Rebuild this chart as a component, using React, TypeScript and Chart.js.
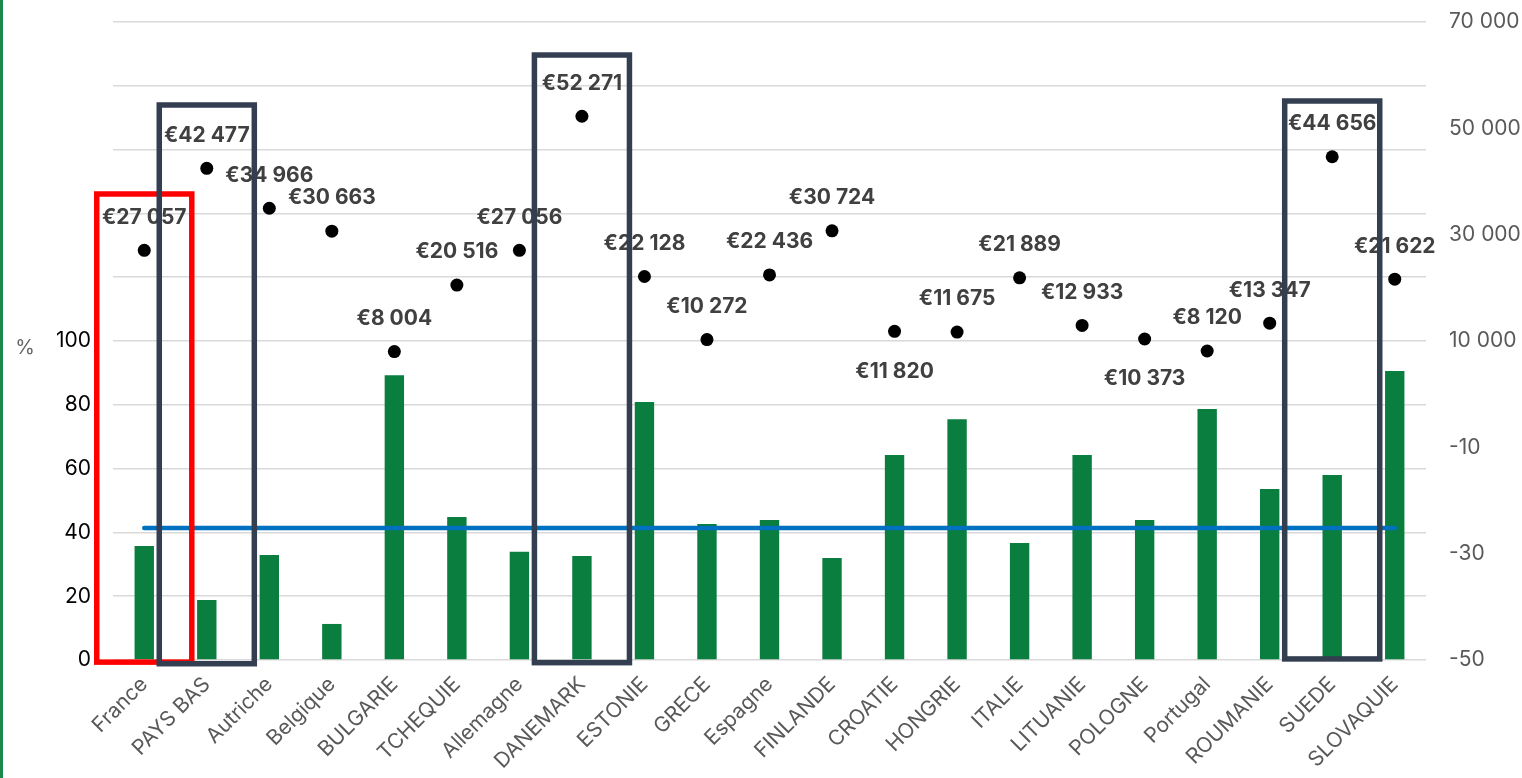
import React, { useEffect, useRef } from "react";
import { Chart, registerables } from "chart.js";

Chart.register(...registerables);

const categories = [
  "France", "PAYS BAS", "Autriche", "Belgique", "BULGARIE", "TCHEQUIE", "Allemagne",
  "DANEMARK", "ESTONIE", "GRECE", "Espagne", "FINLANDE", "CROATIE", "HONGRIE",
  "ITALIE", "LITUANIE", "POLOGNE", "Portugal", "ROUMANIE", "SUEDE", "SLOVAQUIE",
];

const percentValues = [
  35.7, 18.8, 32.9, 11.3, 89.3, 44.8, 33.9, 32.6, 80.9, 42.6, 43.9,
  32.0, 64.3, 75.5, 36.7, 64.3, 43.9, 78.7, 53.6, 58.0, 90.6,
];

const averagePercent = 41.4;

const euroValues = [
  27057, 42477, 34966, 30663, 8004, 20516, 27056, 52271, 22128, 10272, 22436,
  30724, 11820, 11675, 21889, 12933, 10373, 8120, 13347, 44656, 21622,
];

const labelsBelow = ["CROATIE", "POLOGNE"];

const highlightBoxes = [
  { category: "France", top: 37650, bottom: -50400, color: "#ff0000" },
  { category: "PAYS BAS", top: 54390, bottom: -50700, color: "#333f50" },
  { category: "DANEMARK", top: 63790, bottom: -50500, color: "#333f50" },
  { category: "SUEDE", top: 55140, bottom: -49800, color: "#333f50" },
];

const FONT = "Inter, 'Noto Sans', sans-serif";

function formatThousands(v: number): string {
  const s = Math.round(Math.abs(v)).toString();
  return s.replace(/\B(?=(\d{3})+(?!\d))/g, " ");
}

function rightTickLabel(v: number): string {
  if (v < 0) return String(v / 1000);
  return formatThousands(v);
}

const overlayPlugin = {
  id: "overlay",
  afterDatasetsDraw(chart: any) {
    const ctx = chart.ctx;
    const x = chart.scales.x;
    const y = chart.scales.y;
    const y2 = chart.scales.y2;
    ctx.save();
    ctx.font = `bold 21px ${FONT}`;
    ctx.fillStyle = "#404040";
    ctx.textAlign = "center";
    ctx.textBaseline = "middle";
    euroValues.forEach((v, i) => {
      const px = x.getPixelForValue(i);
      const py = y2.getPixelForValue(v);
      const below = labelsBelow.includes(categories[i]);
      ctx.fillText("€" + formatThousands(v), px, below ? py + 40 : py - 33);
    });
    ctx.font = `20px ${FONT}`;
    ctx.fillStyle = "#666666";
    ctx.fillText("%", 25, y.getPixelForValue(100) + 7);
    const cat = x.getPixelForValue(1) - x.getPixelForValue(0);
    ctx.lineWidth = 5.5;
    highlightBoxes.forEach((b) => {
      const i = categories.indexOf(b.category);
      const cx = x.getPixelForValue(i);
      const left = cx - cat * 0.76;
      const right = cx + cat * 0.76;
      const top = y2.getPixelForValue(b.top);
      const bottom = y2.getPixelForValue(b.bottom);
      ctx.strokeStyle = b.color;
      ctx.strokeRect(left, top, right - left, bottom - top);
    });
    ctx.restore();
  },
};

export default function App() {
  const ref = useRef<HTMLCanvasElement | null>(null);

  useEffect(() => {
    document.body.style.margin = "0";
    if (!ref.current) return;
    const chart = new Chart(ref.current, {
      type: "bar",
      data: {
        labels: categories,
        datasets: [
          {
            type: "line",
            label: "Euros",
            data: euroValues,
            yAxisID: "y2",
            showLine: false,
            pointRadius: 6.5,
            pointHoverRadius: 6.5,
            pointBackgroundColor: "#000000",
            pointBorderColor: "#000000",
            pointBorderWidth: 0,
            order: 0,
          } as any,
          {
            type: "line",
            label: "Moyenne",
            data: categories.map(() => averagePercent),
            yAxisID: "y",
            borderColor: "#0070c0",
            borderWidth: 4.5,
            borderCapStyle: "round",
            pointRadius: 0,
            fill: false,
            order: 1,
          } as any,
          {
            type: "bar",
            label: "%",
            data: percentValues,
            yAxisID: "y",
            backgroundColor: "#0a7e3e",
            categoryPercentage: 1,
            barPercentage: 0.31,
            order: 2,
          },
        ],
      },
      options: {
        responsive: false,
        animation: false,
        layout: { padding: { top: 22, left: 0, right: 0, bottom: 0 } },
        plugins: {
          legend: { display: false },
          tooltip: { enabled: false },
        },
        scales: {
          x: {
            grid: { display: false },
            border: { display: false },
            ticks: {
              autoSkip: false,
              minRotation: 45,
              maxRotation: 45,
              padding: 4,
              color: "#595959",
              font: { family: FONT, size: 21 },
            },
            afterFit(scale: any) {
              scale.height = 118;
            },
          },
          y: {
            position: "left",
            min: 0,
            max: 200,
            grid: { color: "#d9d9d9", lineWidth: 1.5, drawTicks: false },
            border: { display: false },
            ticks: {
              stepSize: 20,
              padding: 22,
              color: "#000000",
              font: { family: FONT, size: 21 },
              callback: (v: any) => (Number(v) <= 100 ? String(v) : ""),
            },
            afterFit(scale: any) {
              scale.width = 113;
              scale.paddingTop = 0;
              scale.paddingBottom = 0;
            },
          },
          y2: {
            position: "right",
            min: -50000,
            max: 70000,
            grid: { display: false, drawTicks: false },
            border: { display: false },
            ticks: {
              stepSize: 20000,
              padding: 23,
              color: "#595959",
              font: { family: FONT, size: 21 },
              callback: (v: any) => rightTickLabel(Number(v)),
            },
            afterFit(scale: any) {
              scale.width = 96;
              scale.paddingTop = 0;
              scale.paddingBottom = 0;
            },
          },
        },
      },
      plugins: [overlayPlugin],
    });
    return () => chart.destroy();
  }, []);

  return (
    <div style={{ position: "relative", width: 1522, height: 778, background: "#ffffff" }}>
      <canvas ref={ref} width={1522} height={778} style={{ width: 1522, height: 778, display: "block" }} />
      <div style={{ position: "absolute", left: 0, top: 0, width: 3, height: 778, background: "#1a8a4a" }} />
    </div>
  );
}
